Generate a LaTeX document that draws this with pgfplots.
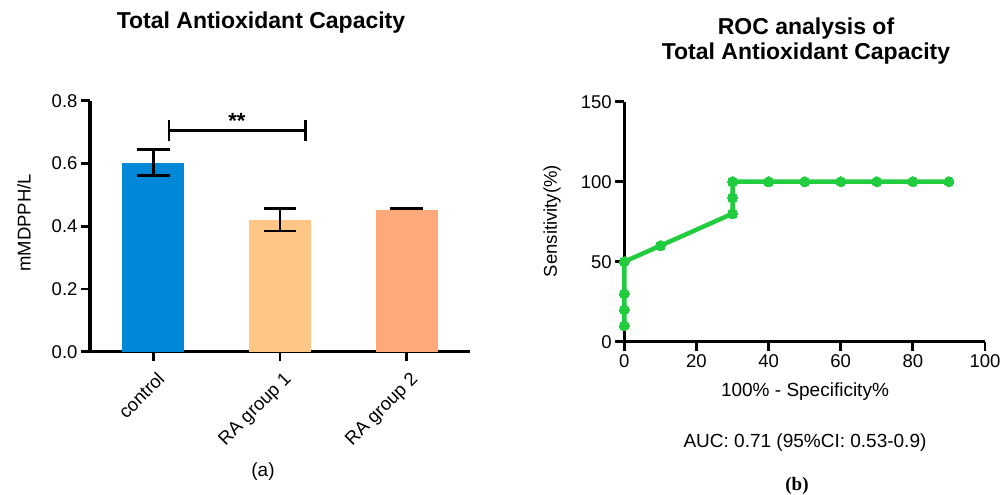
\documentclass[border=0pt]{standalone}
\usepackage{fontspec}
\setmainfont{Liberation Sans}
\newfontfamily\serifb{Liberation Serif}
\usepackage{pgfplots}
\pgfplotsset{compat=1.18}
\definecolor{cblue}{HTML}{0088D8}
\definecolor{corange}{HTML}{FFC685}
\definecolor{csalmon}{HTML}{FFA87A}
\definecolor{cgreen}{HTML}{22CC3F}
\begin{document}
\begin{tikzpicture}
\path[use as bounding box] (0pt,0pt) rectangle (1002pt,495pt);
\pgfplotsset{
  myax/.style={
    scale only axis,
    anchor=south west,
    axis lines*=left,
    axis line style={line width=3.3pt, black},
    every tick/.style={line width=2.8pt, black},
    major tick length=9pt,
    tick align=outside,
    /pgf/number format/assume math mode=true,
    tick label style={font=\fontsize{18.5}{22}\selectfont},
    clip=false,
  },
  eb/.style={black, line width=2.6pt, no marks, forget plot},
}
\begin{axis}[myax,
  at={(90pt,143.3pt)}, width=380pt, height=251pt,
  xmin=-0.5, xmax=2.5, ymin=0, ymax=0.8,
  ytick={0,0.2,0.4,0.6,0.8},
  yticklabel style={/pgf/number format/.cd, fixed, fixed zerofill, precision=1},
  xtick={0,1,2},
  xticklabels={control, RA group 1, RA group 2},
  xticklabel style={rotate=45, anchor=north east, inner sep=1pt, xshift=-4pt, yshift=-8pt},
]
\addplot[ybar, bar width=62pt, bar shift=0pt, draw=none, fill=cblue] coordinates {(0,0.603)};
\addplot[ybar, bar width=62pt, bar shift=0pt, draw=none, fill=corange] coordinates {(1,0.420)};
\addplot[ybar, bar width=62pt, bar shift=0pt, draw=none, fill=csalmon] coordinates {(2,0.452)};
% error bars (mean +- error)
\addplot[eb] coordinates {(0,0.562) (0,0.644)};
\addplot[eb] coordinates {(-0.13,0.644) (0.13,0.644)};
\addplot[eb] coordinates {(-0.13,0.562) (0.13,0.562)};
\addplot[eb] coordinates {(1,0.385) (1,0.456)};
\addplot[eb] coordinates {(0.87,0.456) (1.13,0.456)};
\addplot[eb] coordinates {(0.87,0.385) (1.13,0.385)};
\addplot[eb] coordinates {(1.87,0.456) (2.13,0.456)};
% significance bracket
\addplot[eb] coordinates {(0.124,0.671) (0.124,0.737)};
\addplot[eb] coordinates {(1.203,0.671) (1.203,0.737)};
\addplot[eb] coordinates {(0.124,0.705) (1.203,0.705)};
\node[font=\bfseries\fontsize{22}{22}\selectfont] at (axis cs:0.66,0.735) {**};
\end{axis}
\begin{axis}[myax,
  at={(624.3pt,153.3pt)}, width=360.7pt, height=240pt,
  xmin=0, xmax=100, ymin=0, ymax=150,
  xtick={0,20,40,60,80,100},
  ytick={0,50,100,150},
]
\addplot[cgreen, line width=4.5pt, mark=*, mark size=5pt, mark options={fill=cgreen, draw=cgreen, line width=0pt}]
  coordinates {(0,10) (0,20) (0,30) (0,50) (10,60) (30,80) (30,90) (30,100) (40,100) (50,100) (60,100) (70,100) (80,100) (90,100)};
\end{axis}
\node[font=\bfseries\fontsize{23}{26}\selectfont] at (261pt,472pt) {Total Antioxidant Capacity};
\node[font=\bfseries\fontsize{23}{24.5}\selectfont, align=center] at (806pt,454pt) {ROC analysis of\\Total Antioxidant Capacity};
\node[font=\fontsize{18.5}{22}\selectfont, rotate=90] at (24pt,272pt) {mMDPPH/L};
\node[font=\fontsize{18.5}{22}\selectfont, rotate=90] at (552pt,274pt) {Sensitivity(\%)};
\node[font=\fontsize{19}{22}\selectfont] at (805pt,103pt) {100\% - Specificity\%};
\node[font=\fontsize{19}{22}\selectfont] at (805pt,52pt) {AUC: 0.71 (95\%CI: 0.53-0.9)};
\node[font=\fontsize{19}{22}\selectfont] at (263pt,23pt) {(a)};
\node[font=\serifb\bfseries\fontsize{19}{22}\selectfont] at (797pt,9.5pt) {(b)};
\end{tikzpicture}
\end{document}
